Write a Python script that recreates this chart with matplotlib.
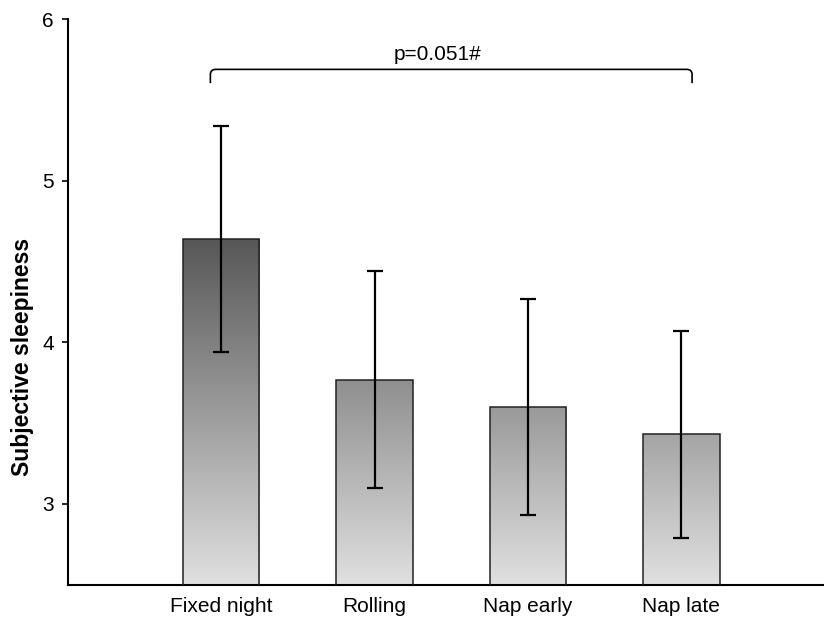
import numpy as np
import matplotlib
matplotlib.use("Agg")
import matplotlib.pyplot as plt
from matplotlib.path import Path
from matplotlib.patches import PathPatch

plt.rcParams['font.family'] = ['Liberation Sans', 'DejaVu Sans']

# Data
categories = ["Fixed night", "Rolling", "Nap early", "Nap late"]
means = [4.64, 3.77, 3.60, 3.43]
errors = [0.70, 0.67, 0.67, 0.64]
p_label = "p=0.051#"
y_ticks = [3, 4, 5, 6]

fig = plt.figure(figsize=(8.24, 6.18), dpi=100)
ax = fig.add_axes([67.7 / 824, 1 - 584.7 / 618, (824 - 67.7) / 824, (584.7 - 19.3) / 618])

ymin, ymax = 2.5, 6.0
xmin, xmax = -1.0, 3.93

x = np.arange(len(categories))
width = 0.5

# Vertical grey gradient shared by all bars: dark at the top, light near the axis
grad_y = np.linspace(ymin, ymax, 400)
grey = np.clip(224 - 64 * (grad_y - ymin), 0, 255) / 255.0
grey2d = np.repeat(grey[:, None], 2, axis=1)
grad_img = np.stack([grey2d, grey2d, grey2d], axis=-1)

bars = ax.bar(x, means, width=width, bottom=0, facecolor='none',
              edgecolor='#222222', linewidth=1.1, zorder=3)
for bar in bars:
    im = ax.imshow(grad_img, extent=[xmin, xmax, ymin, ymax], origin='lower',
                   aspect='auto', zorder=2, interpolation='bilinear')
    im.set_clip_path(bar)

ax.set_xlim(xmin, xmax)
ax.set_ylim(ymin, ymax)

ax.errorbar(x, means, yerr=errors, fmt='none', ecolor='black',
            elinewidth=1.6, capsize=6, capthick=1.6, zorder=4)

# Bracket with rounded corners spanning all groups
bx0, bx1 = -0.07, 3.07
by_low, by_top = 5.605, 5.69
rx, ry = 0.035, 0.032
verts = [(bx0, by_low), (bx0, by_top - ry), (bx0, by_top), (bx0 + rx, by_top),
         (bx1 - rx, by_top), (bx1, by_top), (bx1, by_top - ry), (bx1, by_low)]
codes = [Path.MOVETO, Path.LINETO, Path.CURVE3, Path.CURVE3,
         Path.LINETO, Path.CURVE3, Path.CURVE3, Path.LINETO]
ax.add_patch(PathPatch(Path(verts, codes), facecolor='none', edgecolor='black',
                       linewidth=1.2, zorder=5, clip_on=False))
ax.text(1.41, 5.75, p_label, ha='center', va='baseline', fontsize=15)

# Axes styling
for side in ['top', 'right']:
    ax.spines[side].set_visible(False)
for side in ['left', 'bottom']:
    ax.spines[side].set_linewidth(1.5)
ax.set_yticks(y_ticks)
ax.set_yticklabels([str(t) for t in y_ticks], fontsize=15)
ax.tick_params(axis='y', direction='out', length=4, width=1.2, pad=6)
ax.set_xticks(x)
ax.set_xticklabels(categories, fontsize=15)
ax.tick_params(axis='x', direction='in', length=4, width=1.2, pad=9)
ax.set_ylabel("Subjective sleepiness", fontsize=16.5, fontweight='bold')
ax.yaxis.set_label_coords(-0.044, 0.403)

fig.savefig("out.png", dpi=100)
